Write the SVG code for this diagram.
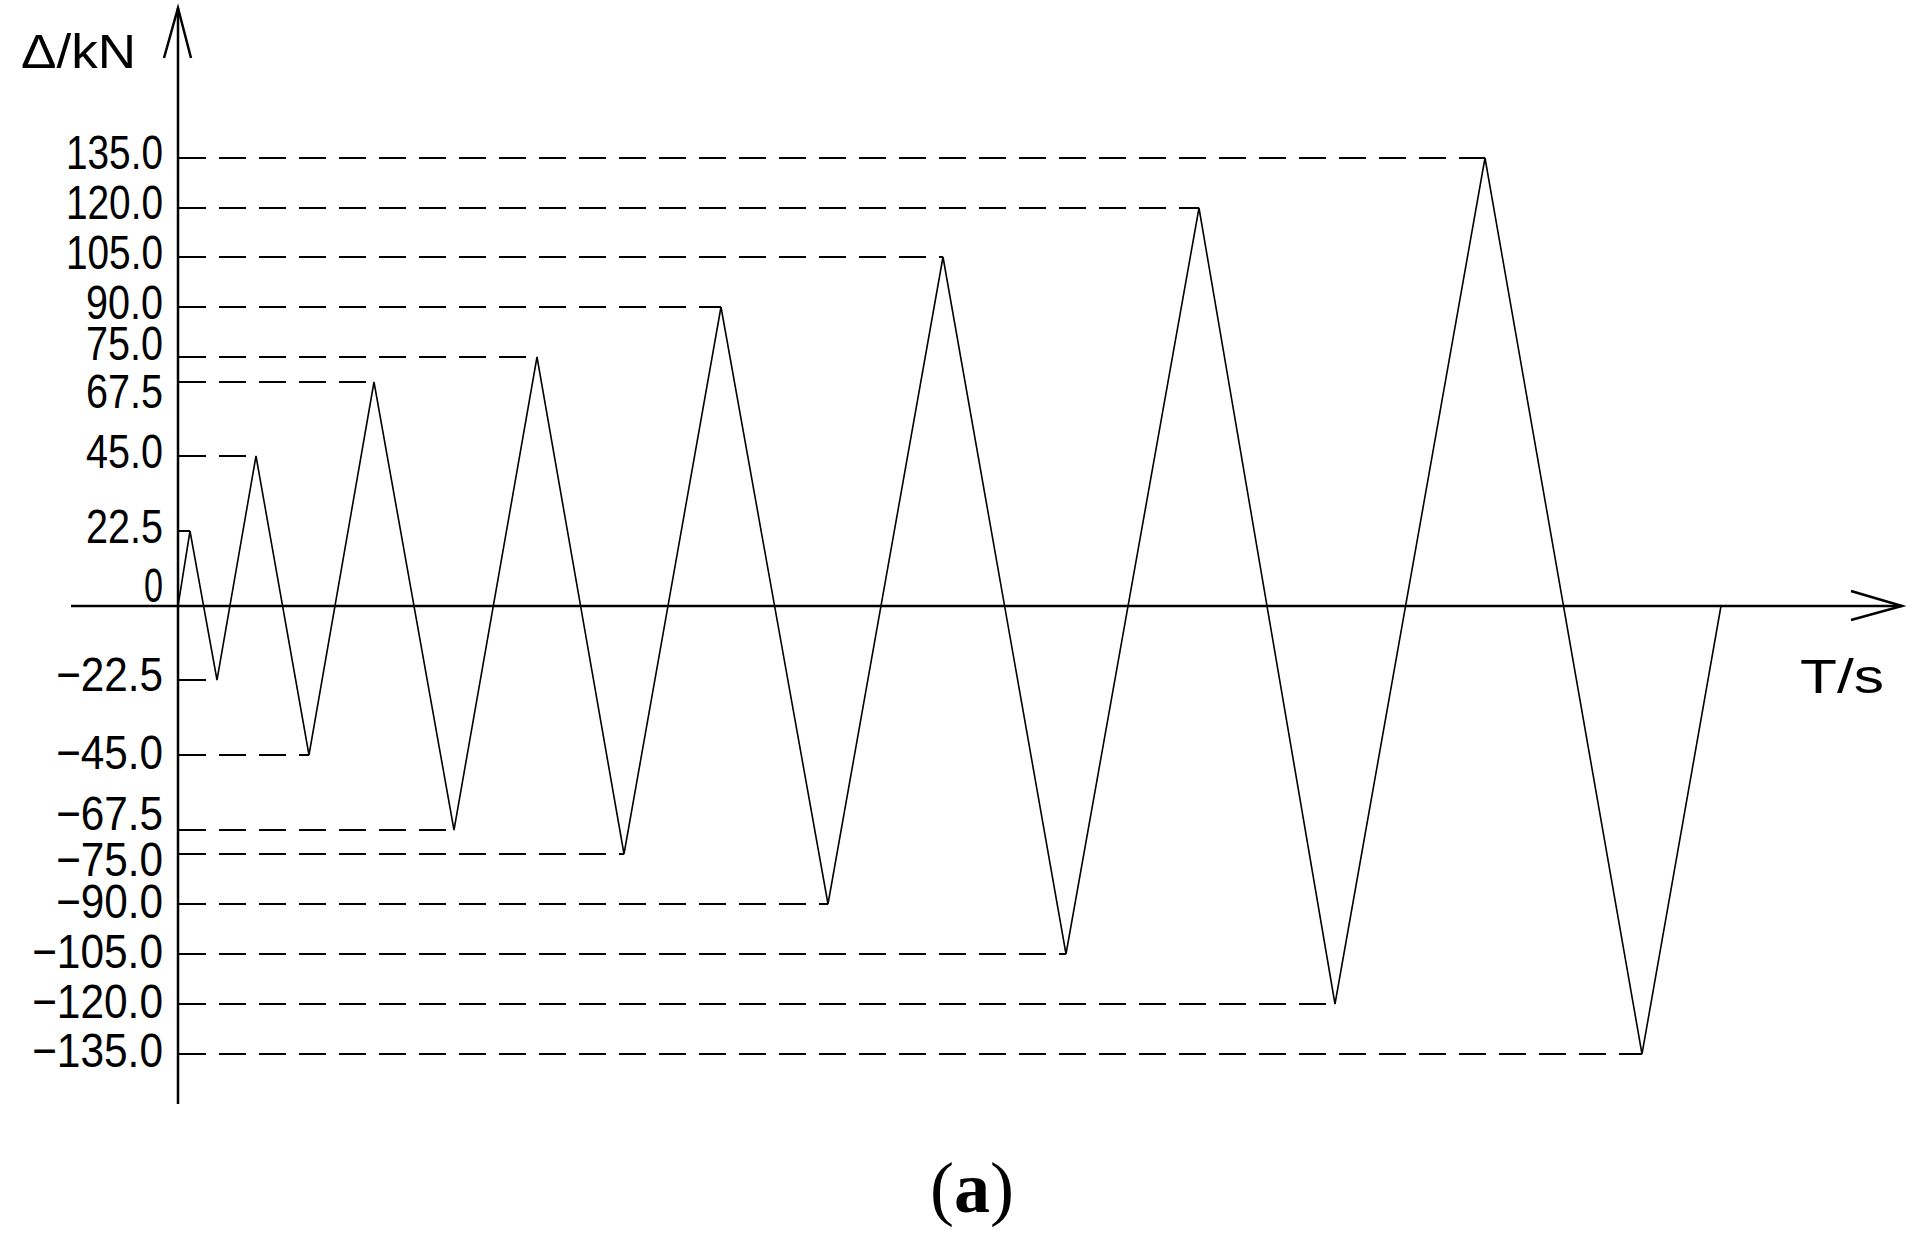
<svg xmlns="http://www.w3.org/2000/svg" width="1924" height="1237" viewBox="0 0 1924 1237">
<style>
.ax{stroke:#000;stroke-width:2.5;fill:none}
.d{stroke:#000;stroke-width:2;stroke-dasharray:27 13;fill:none}
.w{stroke:#000;stroke-width:1.6;fill:none;stroke-linejoin:miter}
.t{font-family:"Liberation Sans",Arial,sans-serif;font-size:48px;fill:#000;text-anchor:end}
</style>
<rect width="1924" height="1237" fill="#fff"/>
<g id="axes">
<line class="ax" x1="178" y1="8" x2="178" y2="1104"/>
<polyline class="ax" stroke-width="2" points="164,58 178,8 191,58"/>
<line class="ax" stroke-width="1.6" x1="71" y1="606" x2="1902" y2="606"/>
<polyline class="ax" stroke-width="1.6" points="1851,591 1902,606 1851,620"/>
</g>
<g id="grid">
<line class="d" x1="179" y1="158" x2="1485" y2="158"/>
<line class="d" x1="179" y1="208" x2="1199" y2="208"/>
<line class="d" x1="179" y1="257" x2="943" y2="257"/>
<line class="d" x1="179" y1="307" x2="721" y2="307"/>
<line class="d" x1="179" y1="357" x2="537" y2="357"/>
<line class="d" x1="179" y1="382" x2="374" y2="382"/>
<line class="d" x1="179" y1="456" x2="256" y2="456"/>
<line class="d" x1="179" y1="531" x2="190" y2="531"/>
<line class="d" x1="179" y1="680" x2="217" y2="680"/>
<line class="d" x1="179" y1="755" x2="309" y2="755"/>
<line class="d" x1="179" y1="830" x2="454" y2="830"/>
<line class="d" x1="179" y1="854" x2="624" y2="854"/>
<line class="d" x1="179" y1="904" x2="828" y2="904"/>
<line class="d" x1="179" y1="954" x2="1066" y2="954"/>
<line class="d" x1="179" y1="1004" x2="1335" y2="1004"/>
<line class="d" x1="179" y1="1054" x2="1642" y2="1054"/>
</g>
<g id="wave">
<polyline class="w" points="178,606 190,531 217,680 256,456 309,755 374,382 454,830 537,357 624,854 721,307 828,904 943,257 1066,954 1199,208 1335,1004 1485,158 1642,1054 1721,606"/>
</g>
<g id="labels">
<text class="t" x="163" y="169" textLength="97" lengthAdjust="spacingAndGlyphs">135.0</text>
<text class="t" x="163" y="219" textLength="97" lengthAdjust="spacingAndGlyphs">120.0</text>
<text class="t" x="163" y="269" textLength="97" lengthAdjust="spacingAndGlyphs">105.0</text>
<text class="t" x="163" y="319" textLength="77" lengthAdjust="spacingAndGlyphs">90.0</text>
<text class="t" x="163" y="360" textLength="77" lengthAdjust="spacingAndGlyphs">75.0</text>
<text class="t" x="163" y="408" textLength="77" lengthAdjust="spacingAndGlyphs">67.5</text>
<text class="t" x="163" y="468" textLength="77" lengthAdjust="spacingAndGlyphs">45.0</text>
<text class="t" x="163" y="543" textLength="77" lengthAdjust="spacingAndGlyphs">22.5</text>
<text class="t" x="163" y="602" textLength="19" lengthAdjust="spacingAndGlyphs">0</text>
<text class="t" x="163" y="691" textLength="107" lengthAdjust="spacingAndGlyphs">−22.5</text>
<text class="t" x="163" y="769" textLength="107" lengthAdjust="spacingAndGlyphs">−45.0</text>
<text class="t" x="163" y="830" textLength="107" lengthAdjust="spacingAndGlyphs">−67.5</text>
<text class="t" x="163" y="876" textLength="107" lengthAdjust="spacingAndGlyphs">−75.0</text>
<text class="t" x="163" y="918" textLength="107" lengthAdjust="spacingAndGlyphs">−90.0</text>
<text class="t" x="163" y="968" textLength="131" lengthAdjust="spacingAndGlyphs">−105.0</text>
<text class="t" x="163" y="1018" textLength="131" lengthAdjust="spacingAndGlyphs">−120.0</text>
<text class="t" x="163" y="1067" textLength="131" lengthAdjust="spacingAndGlyphs">−135.0</text>
<text class="t" x="136" y="68" textLength="115" lengthAdjust="spacingAndGlyphs">Δ/kN</text>
<text class="t" x="1884" y="693" textLength="84" lengthAdjust="spacingAndGlyphs">T/s</text>
<text x="972" y="1212" font-family="Liberation Serif,serif" font-size="72" text-anchor="middle">(<tspan font-weight="bold">a</tspan>)</text>
</g>
</svg>
